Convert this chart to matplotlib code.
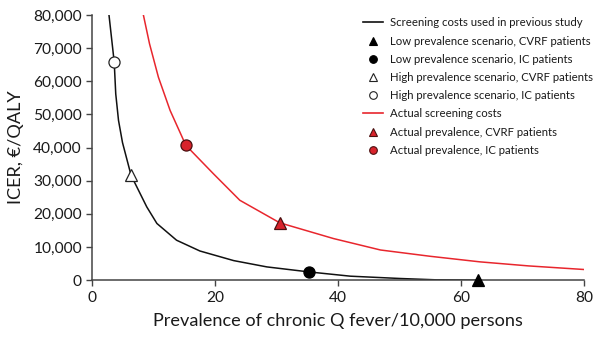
"""ICER vs prevalence of chronic Q fever (matplotlib)"""

import matplotlib

matplotlib.use("Agg")
import matplotlib.pyplot as plt
from matplotlib.lines import Line2D
from matplotlib.ticker import StrMethodFormatter

plt.rcParams["font.family"] = ["Lato", "DejaVu Sans"]

# curve: screening costs used in previous study
prev_black = [2.7, 3.55, 3.8, 4.25, 4.9, 6.3, 8.85, 10.5, 13.7, 17.5, 23.0, 28.4, 35.2, 42.0, 50.1, 56.0, 62.7]
icer_black = [80000, 65800, 56200, 48200, 41500, 31600, 22100, 17100, 12050, 8800, 5900, 4000, 2500, 1200, 500, 100, 0]

# curve: actual screening costs
prev_red = [8.3, 9.3, 10.75, 12.65, 14.6, 15.2, 19.7, 24.0, 30.5, 39.25, 46.9, 55.0, 63.1, 71.0, 80.0]
icer_red = [80000, 71300, 61200, 51200, 43200, 40700, 32100, 24100, 17300, 12550, 9100, 7200, 5520, 4300, 3220]

# scenario points (prevalence, ICER)
low_cvrf = (62.7, 0)
low_ic = (35.2, 2500)
high_cvrf = (6.3, 31600)
high_ic = (3.55, 65800)
actual_cvrf = (30.5, 17300)
actual_ic = (15.2, 40700)

RED = "#e8262d"
RED_FACE = "#d8232b"
RED_EDGE = "#4a1010"
TEXT = "#1a1a1a"

fig = plt.figure(figsize=(6.0, 3.4), dpi=100)
ax = fig.add_axes([0.154, 0.176, 0.819, 0.78])

ax.plot(prev_black, icer_black, color="#111111", lw=1.1, zorder=2)
ax.plot(prev_red, icer_red, color=RED, lw=1.1, zorder=2)

mk = dict(markersize=8, markeredgewidth=0.9, linestyle="none", clip_on=False, zorder=5)
ax.plot(*low_cvrf, marker="^", color="black", **mk)
ax.plot(*low_ic, marker="o", color="black", **mk)
ax.plot(*high_cvrf, marker="^", markerfacecolor="white", markeredgecolor="#222222", **mk)
ax.plot(*high_ic, marker="o", markerfacecolor="white", markeredgecolor="#222222", **mk)
ax.plot(*actual_cvrf, marker="^", markerfacecolor=RED_FACE, markeredgecolor=RED_EDGE, **mk)
ax.plot(*actual_ic, marker="o", markerfacecolor=RED_FACE, markeredgecolor=RED_EDGE, **mk)

ax.set_xlim(0, 80)
ax.set_ylim(0, 80000)
ax.set_xticks([0, 20, 40, 60, 80])
ax.set_yticks(range(0, 80001, 10000))
ax.yaxis.set_major_formatter(StrMethodFormatter("{x:,.0f}"))
ax.tick_params(labelsize=11.2, length=4, width=1, color="#444444", labelcolor=TEXT)
for side in ("top", "right"):
    ax.spines[side].set_visible(False)
for side in ("left", "bottom"):
    ax.spines[side].set_color("#444444")
    ax.spines[side].set_linewidth(1.1)

ax.set_xlabel("Prevalence of chronic Q fever/10,000 persons", fontsize=13.1, color=TEXT, labelpad=6)
ax.set_ylabel("ICER, €/QALY", fontsize=13.1, color=TEXT, labelpad=7)

sm = dict(linestyle="none", markersize=5.5, markeredgewidth=0.8)
handles = [
    Line2D([], [], color="#111111", lw=1.2),
    Line2D([], [], marker="^", color="black", **sm),
    Line2D([], [], marker="o", color="black", **sm),
    Line2D([], [], marker="^", markerfacecolor="white", markeredgecolor="#222222", **sm),
    Line2D([], [], marker="o", markerfacecolor="white", markeredgecolor="#222222", **sm),
    Line2D([], [], color=RED, lw=1.2),
    Line2D([], [], marker="^", markerfacecolor=RED_FACE, markeredgecolor=RED_EDGE, **sm),
    Line2D([], [], marker="o", markerfacecolor=RED_FACE, markeredgecolor=RED_EDGE, **sm),
]
labels = [
    "Screening costs used in previous study",
    "Low prevalence scenario, CVRF patients",
    "Low prevalence scenario, IC patients",
    "High prevalence scenario, CVRF patients",
    "High prevalence scenario, IC patients",
    "Actual screening costs",
    "Actual prevalence, CVRF patients",
    "Actual prevalence, IC patients",
]
fig.legend(
    handles, labels, loc="upper left", bbox_to_anchor=(0.598, 0.962),
    frameon=False, fontsize=8.2, handlelength=1.7, handletextpad=0.6,
    labelspacing=0.63, borderaxespad=0, labelcolor=TEXT,
)

fig.savefig("out.png", dpi=100)
